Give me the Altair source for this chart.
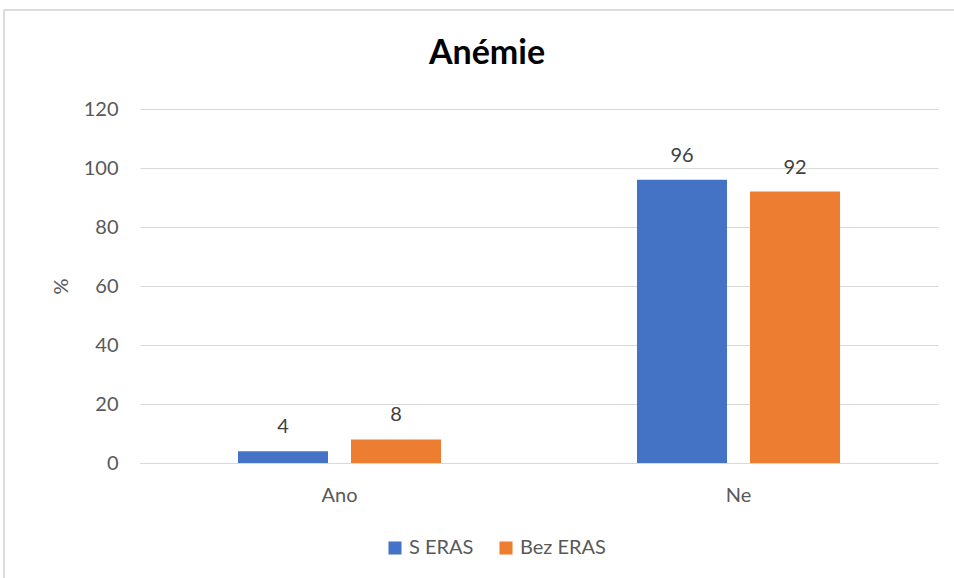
import altair as alt
import pandas as pd

categories = ["Ano", "Ne", "Ano", "Ne"]
series = ["S ERAS", "S ERAS", "Bez ERAS", "Bez ERAS"]
values = [4, 96, 8, 92]
series_order = ["S ERAS", "Bez ERAS"]
colors = ["#4472C4", "#ED7D31"]
y_ticks = [0, 20, 40, 60, 80, 100, 120]

df = pd.DataFrame({"cat": categories, "series": series, "value": values})

FONT = "Lato"
W, H = 798, 354

base = alt.Chart(df).encode(
    x=alt.X("cat:N", sort=["Ano", "Ne"],
            scale=alt.Scale(paddingInner=0, paddingOuter=0),
            axis=alt.Axis(title=None, labelAngle=0, ticks=False, domain=True,
                          domainColor="#d9d9d9", domainWidth=1, labelPadding=22,
                          labelFontSize=20, labelColor="#595959", labelFont=FONT)),
    xOffset=alt.XOffset("series:N", sort=series_order,
                        scale=alt.Scale(paddingInner=0.2035, paddingOuter=0.867)),
)

bars = base.mark_bar().encode(
    y=alt.Y("value:Q", scale=alt.Scale(domain=[0, 120], nice=False),
            axis=alt.Axis(title="%", values=y_ticks, ticks=False, domain=False,
                          grid=True, gridColor="#d9d9d9", gridWidth=1,
                          labelPadding=22, labelFontSize=20, labelColor="#595959",
                          labelFont=FONT, titleFont=FONT, titleFontSize=20,
                          titleColor="#595959", titleFontWeight="normal",
                          titlePadding=12)),
    color=alt.Color("series:N", sort=series_order,
                    scale=alt.Scale(domain=series_order, range=colors),
                    legend=alt.Legend(title=None, orient="none", direction="horizontal",
                                      legendX=245, legendY=429, symbolType="square",
                                      symbolSize=170, symbolStrokeWidth=0,
                                      labelFontSize=20, labelColor="#595959",
                                      labelFont=FONT, columnPadding=22,
                                      symbolOffset=0)),
)

labels = base.mark_text(baseline="alphabetic", dy=-18, fontSize=20,
                        color="#404040", font=FONT).encode(
    y=alt.Y("value:Q"),
    text=alt.Text("value:Q"),
)

border = alt.Chart(df).mark_rect(fill=None, stroke="#d9d9d9", strokeWidth=1).encode(
    x=alt.value(-136), x2=alt.value(W + 60), y=alt.value(-99), y2=alt.value(H + 140)
)

chart = alt.layer(border, bars, labels).properties(
    width=W, height=H,
    title=alt.Title("Anémie", fontSize=34, fontWeight="bold", font=FONT,
                    color="#000000", anchor="middle", dx=-52, offset=-88,
                    baseline="alphabetic"),
    autosize=alt.AutoSizeParams(type="none"),
    padding={"left": 140, "top": 109, "right": 16, "bottom": 115},
).configure_view(stroke=None)

chart.save("out.html", embed_options={"renderer": "svg", "actions": False})
